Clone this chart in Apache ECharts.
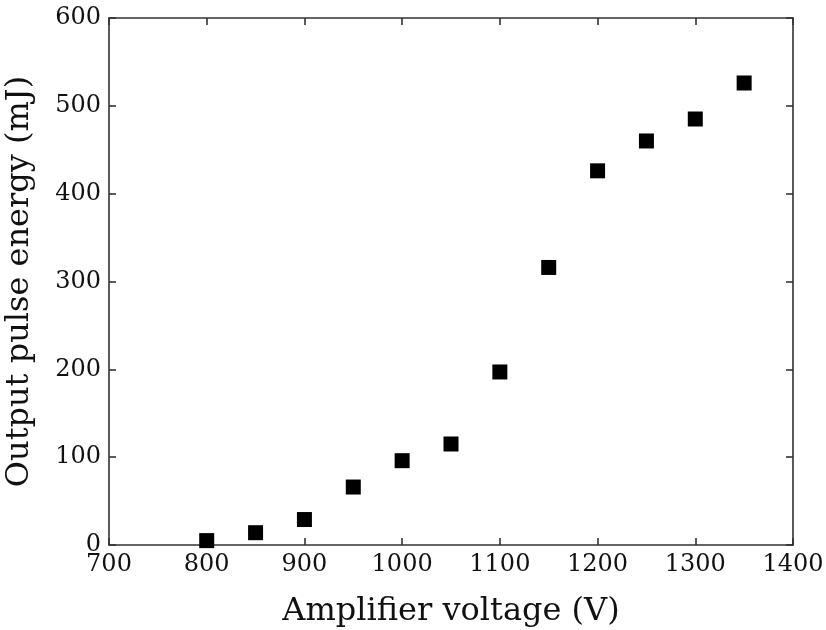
<!DOCTYPE html>
<html>
<head>
<meta charset="utf-8">
<script src="https://cdn.jsdelivr.net/npm/echarts@6/dist/echarts.min.js"></script>
<style>html,body{margin:0;padding:0;background:#fff}#c{width:826px;height:630px}</style>
</head>
<body>
<div id="c"></div>
<script>
const voltages = [800, 850, 900, 950, 1000, 1050, 1100, 1150, 1200, 1250, 1300, 1350];
const energies = [5, 14, 29, 66, 96, 115, 197, 316, 426, 460, 485, 526];
const xTitle = 'Amplifier voltage (V)';
const yTitle = 'Output pulse energy (mJ)';

const font = 'DejaVu Serif';
const axisColor = '#333';
const chart = echarts.init(document.getElementById('c'), null, {renderer: 'canvas'});
const axisCommon = {
  axisLine: {show: true, onZero: false, lineStyle: {color: axisColor, width: 1.6}},
  axisTick: {show: true, inside: true, length: 7, lineStyle: {color: axisColor, width: 1.6}},
  splitLine: {show: false}
};
const fmt = v => String(v);
chart.setOption({
  animation: false,
  backgroundColor: '#fff',
  grid: {left: 109, right: 33, top: 18, bottom: 85, containLabel: false, outerBoundsMode: 'none'},
  xAxis: [
    Object.assign({type: 'value', min: 700, max: 1400, interval: 100, position: 'bottom',
      name: xTitle, nameLocation: 'middle', nameGap: 51,
      nameTextStyle: {fontFamily: font, fontSize: 32, color: '#111'},
      axisLabel: {fontFamily: font, fontSize: 24, color: '#111', margin: 8, formatter: fmt}}, axisCommon),
    Object.assign({type: 'value', min: 700, max: 1400, interval: 100, position: 'top',
      axisLabel: {show: false}}, axisCommon)
  ],
  yAxis: [
    Object.assign({type: 'value', min: 0, max: 600, interval: 100, position: 'left',
      name: yTitle, nameLocation: 'middle', nameGap: 73, nameRotate: 90,
      nameTextStyle: {fontFamily: font, fontSize: 32, color: '#111'},
      axisLabel: {fontFamily: font, fontSize: 24, color: '#111', margin: 8, formatter: fmt}}, axisCommon),
    Object.assign({type: 'value', min: 0, max: 600, interval: 100, position: 'right',
      axisLabel: {show: false}}, axisCommon)
  ],
  series: [{
    type: 'scatter',
    xAxisIndex: 0, yAxisIndex: 0,
    symbol: 'rect',
    symbolSize: 15,
    itemStyle: {color: '#000', opacity: 1},
    data: voltages.map((v, i) => [v, energies[i]])
  }]
});
</script>
</body>
</html>
